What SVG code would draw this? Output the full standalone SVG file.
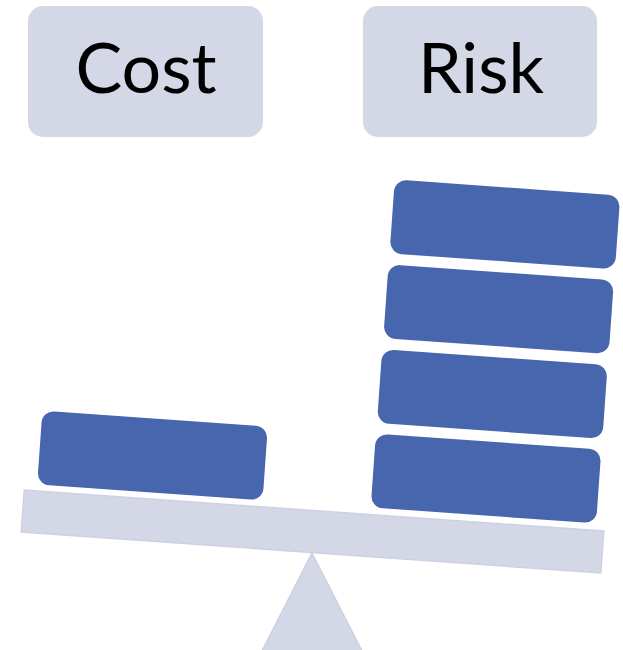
<svg xmlns="http://www.w3.org/2000/svg" width="623" height="650" viewBox="0 0 623 650">
<style>
.label{fill:#d4d7e5}
.txt{font-family:"Lato","Liberation Sans",sans-serif;font-size:70px;fill:#000;text-anchor:middle}
.block{fill:#4866ad}
.struct{fill:#d4d7e5;stroke:#cdd1e3;stroke-width:1.5}
</style>
<rect width="623" height="650" fill="#fff"/>
<g id="fulcrum"><polygon class="struct" points="312,553 362,651 262,651" stroke="none"/></g>
<g id="beam"><rect class="struct" x="-290.5" y="-21" width="581" height="42" transform="translate(312.5,531.5) rotate(4.05)"/></g>
<g id="cost-label"><rect class="label" x="28" y="6" width="235" height="131" rx="15"/><text class="txt" x="146" y="93">Cost</text></g>
<g id="risk-label"><rect class="label" x="363" y="6" width="234" height="131" rx="15"/><text class="txt" x="481" y="93">Risk</text></g>
<g id="cost-block"><rect class="block" x="-113" y="-37" width="226" height="74" rx="12" transform="translate(152.5,455.5) rotate(4.05)"/></g>
<g id="risk-block-1"><rect class="block" x="-113" y="-37" width="226" height="74" rx="12" transform="translate(486,478.5) rotate(4.05)"/></g>
<g id="risk-block-2"><rect class="block" x="-113" y="-37" width="226" height="74" rx="12" transform="translate(492.3,394) rotate(4.05)"/></g>
<g id="risk-block-3"><rect class="block" x="-113" y="-37" width="226" height="74" rx="12" transform="translate(498.6,309.2) rotate(4.05)"/></g>
<g id="risk-block-4"><rect class="block" x="-113" y="-37" width="226" height="74" rx="12" transform="translate(504.9,224.4) rotate(4.05)"/></g>
<g id="connectors"></g>
</svg>
